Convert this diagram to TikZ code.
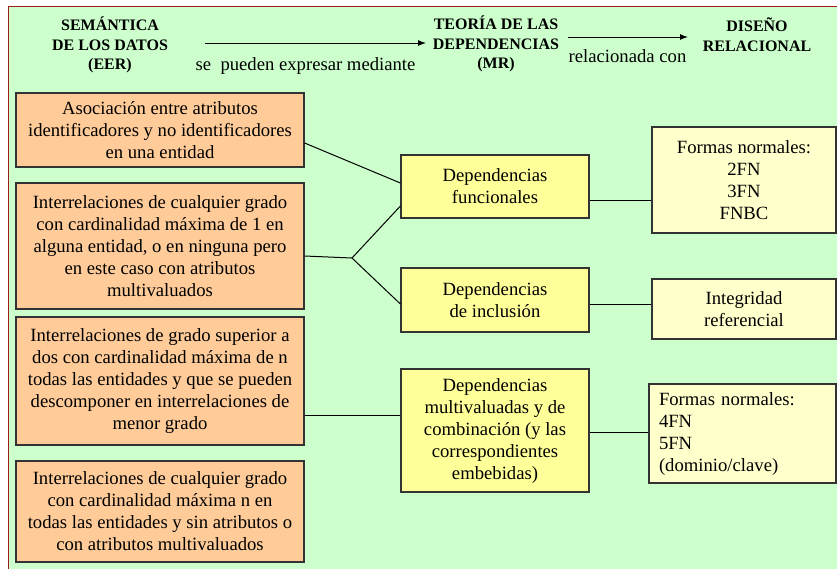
\documentclass[tikz,border=0pt]{standalone}
\usepackage{fontspec}
\setmainfont{Liberation Serif}
\usetikzlibrary{arrows.meta}
\definecolor{bggreen}{HTML}{CCFFCC}
\definecolor{framered}{HTML}{9E1B1B}
\definecolor{orangebox}{HTML}{FFCC99}
\definecolor{yellowbox}{HTML}{FFFF99}
\definecolor{creambox}{HTML}{FFFFCC}
\definecolor{boxline}{HTML}{333333}
\tikzset{
  txt/.style={font=\fontsize{14}{16.5}\selectfont, text=black},
  hdr/.style={font=\fontsize{12}{14.6}\selectfont\bfseries, align=center, inner sep=0pt, text=black},
  lbl/.style={font=\fontsize{14}{16.5}\selectfont, inner sep=0pt, text=black},
  basebox/.style={txt, draw=boxline, line width=0.9pt, inner sep=0pt, align=center},
  leftbox/.style={basebox, fill=orangebox, minimum width=216pt},
  depbox/.style={basebox, fill=yellowbox, minimum width=141pt},
  fnbox/.style={basebox, fill=creambox, minimum width=138pt},
  conn/.style={draw=black, line width=0.75pt},
  arr/.style={draw=black, line width=0.75pt, -{Latex[length=6pt,width=4.5pt]}}
}
\begin{document}
\begin{tikzpicture}[x=0.75pt,y=-0.75pt]
\useasboundingbox (0,0) rectangle (837,569);
\fill[white] (0,0) rectangle (837,569);
\fill[bggreen] (8.5,6.5) rectangle (837,569);
\draw[framered, line width=1.2pt] (8.5,569) -- (8.5,6.5) -- (837,6.5);

% headers
\node[hdr] (sem) at (110,45) {SEMÁNTICA\\DE LOS DATOS\\(EER)};
\node[hdr] (teo) at (496,44) {TEORÍA DE LAS\\DEPENDENCIAS\\(MR)};
\node[hdr] (dis) at (757,34.5) {DISEÑO\\RELACIONAL};
\coordinate (a1s) at (205,43);
\coordinate (a1e) at (426,43);
\coordinate (a2s) at (568,37);
\coordinate (a2e) at (688,37);
\draw[arr] (a1s) -- (a1e);
\draw[arr] (a2s) -- (a2e);
\node[lbl] (l1) at (305.5,66) {se\ \ pueden expresar mediante};
\node[lbl] (l2) at (627.5,56) {relacionada con};

% left boxes
\node[leftbox, minimum height=55.5pt] (b1) at (160,130) {Asociación entre atributos\\identificadores y no identificadores\\en una entidad};
\node[leftbox, minimum height=94.5pt] (b2) at (160,246) {Interrelaciones de cualquier grado\\con cardinalidad máxima de 1 en\\alguna entidad, o en ninguna pero\\en este caso con atributos\\multivaluados};
\node[leftbox, minimum height=96pt] (b3) at (160,381) {Interrelaciones de grado superior a\\dos con cardinalidad máxima de n\\todas las entidades y que se pueden\\descomponer en interrelaciones de\\menor grado};
\node[leftbox, minimum height=75.75pt] (b4) at (160,511.5) {Interrelaciones de cualquier grado\\con cardinalidad máxima n en\\todas las entidades y sin atributos o\\con atributos multivaluados};

% dependency boxes
\node[depbox, minimum height=47.25pt] (func) at (495,186.5) {Dependencias\\funcionales};
\node[depbox, minimum height=48pt] (incl) at (495,300) {Dependencias\\de inclusión};
\node[depbox, minimum height=92.25pt] (multi) at (495,430.5) {Dependencias\\multivaluadas y de\\combinación (y las\\correspondientes\\embebidas)};

% right boxes
\node[fnbox, minimum height=79.5pt] (fn1) at (744,180) {Formas normales:\\2FN\\3FN\\FNBC};
\node[fnbox, minimum height=45pt] (integ) at (744,309) {Integridad\\referencial};
\node[basebox, fill=creambox, align=left, text width=125.25pt, inner xsep=7.5pt, inner ysep=0pt, minimum height=74.25pt] (fn3) at (742.5,433.5) {Formas normales:\\4FN\\5FN\\(dominio/clave)};

% connectors
\coordinate (br) at (352,258);
\draw[conn] ([yshift=-9.75pt]b1.east) -- ([yshift=2.625pt]func.west);
\draw[conn] ([yshift=-7.5pt]b2.east) -- (br);
\draw[conn] (br) -- ([yshift=-14.625pt]func.west);
\draw[conn] (br) -- ([yshift=-3pt]incl.west);
\draw[conn] ([yshift=-25.5pt]b3.east) -- ([yshift=11.625pt]multi.west);
\draw[conn] ([yshift=-10.125pt]func.east) -- ([yshift=-15pt]fn1.west);
\draw[conn] ([yshift=-3pt]incl.east) -- ([yshift=3.75pt]integ.west);
\draw[conn] ([yshift=-1.125pt]multi.east) -- ([yshift=1.125pt]fn3.west);
\end{tikzpicture}
\end{document}
